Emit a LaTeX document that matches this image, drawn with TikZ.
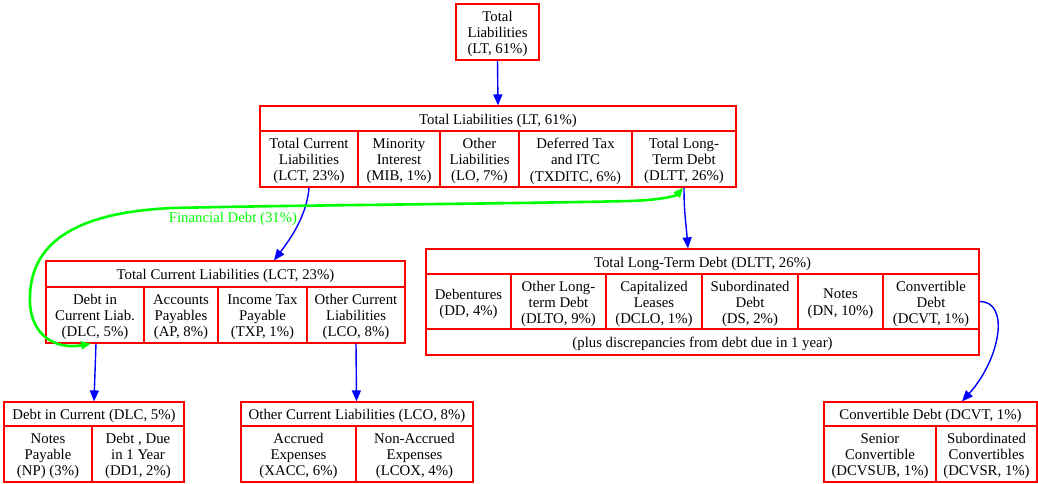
\documentclass[tikz,border=0pt]{standalone}
\usepackage{fontspec}
\setmainfont{Liberation Serif}
\usetikzlibrary{arrows.meta}
\definecolor{gvred}{rgb}{1,0,0}
\definecolor{gvblue}{rgb}{0,0,1}
\definecolor{gvgreen}{rgb}{0,1,0}
\newcommand\cellbox[6]{%
  \node[cellsty, minimum width={(#4-#2)*1pt}, minimum height={(#5-#3)*1pt}] (#1) at ({(#2+#4)/2},{(#3+#5)/2}) {};
  \node[celltext] (#1-t) at ([yshift=-2.2pt]#1.center) {#6};}
\begin{document}
\begin{tikzpicture}[x=1pt,y=-1pt,
  cellsty/.style={draw=gvred, line width=1.2pt, inner sep=0pt, rectangle},
  celltext/.style={inner sep=0pt, align=center, font=\fontsize{14.8}{16.2}\selectfont},
  bluearrow/.style={draw=gvblue, line width=1.4pt, -{Triangle[length=11pt,width=9pt]}},
  greenarrow/.style={draw=gvgreen, line width=2.6pt, {Triangle[length=10pt,width=8pt]}-{Triangle[length=10pt,width=8pt]}},
  greenlabel/.style={text=gvgreen, font=\fontsize{14.8}{16.2}\selectfont, inner sep=0pt}]
\useasboundingbox (0,0) rectangle (1038,484);
% top node
\cellbox{T}{456}{4}{539}{60}{Total\\Liabilities\\(LT, 61\%)}
% LT record
\cellbox{lth}{260}{106}{736}{131}{Total Liabilities (LT, 61\%)}
\cellbox{lt1}{260}{131}{358}{187}{Total Current\\Liabilities\\(LCT, 23\%)}
\cellbox{lt2}{358}{131}{440}{187}{Minority\\Interest\\(MIB, 1\%)}
\cellbox{lt3}{440}{131}{519}{187}{Other\\Liabilities\\(LO, 7\%)}
\cellbox{lt4}{519}{131}{632}{187}{Deferred Tax\\and ITC\\(TXDITC, 6\%)}
\cellbox{lt5}{632}{131}{736}{187}{Total Long-\\Term Debt\\(DLTT, 26\%)}
% LCT record
\cellbox{lcth}{46}{261}{405}{287}{Total Current Liabilities (LCT, 23\%)}
\cellbox{lc1}{46}{287}{144}{343}{Debt in\\Current Liab.\\(DLC, 5\%)}
\cellbox{lc2}{144}{287}{218}{343}{Accounts\\Payables\\(AP, 8\%)}
\cellbox{lc3}{218}{287}{307}{343}{Income Tax\\Payable\\(TXP, 1\%)}
\cellbox{lc4}{307}{287}{405}{343}{Other Current\\Liabilities\\(LCO, 8\%)}
% DLTT record
\cellbox{dlh}{426}{249}{979}{274}{Total Long-Term Debt (DLTT, 26\%)}
\cellbox{dl1}{426}{274}{511}{329}{Debentures\\(DD, 4\%)}
\cellbox{dl2}{511}{274}{606}{329}{Other Long-\\term Debt\\(DLTO, 9\%)}
\cellbox{dl3}{606}{274}{702}{329}{Capitalized\\Leases\\(DCLO, 1\%)}
\cellbox{dl4}{702}{274}{798}{329}{Subordinated\\Debt\\(DS, 2\%)}
\cellbox{dl5}{798}{274}{883}{329}{Notes\\(DN, 10\%)}
\cellbox{dl6}{883}{274}{979}{329}{Convertible\\Debt\\(DCVT, 1\%)}
\cellbox{dlf}{426}{329}{979}{355}{(plus discrepancies from debt due in 1 year)}
% DLC record
\cellbox{dch}{4}{402}{184}{426}{Debt in Current (DLC, 5\%)}
\cellbox{dc1}{4}{426}{92}{482}{Notes\\Payable\\(NP) (3\%)}
\cellbox{dc2}{92}{426}{184}{482}{Debt , Due\\in 1 Year\\(DD1, 2\%)}
% LCO record
\cellbox{lch}{241}{402}{473}{426}{Other Current Liabilities (LCO, 8\%)}
\cellbox{lo1}{241}{426}{356}{482}{Accrued\\Expenses\\(XACC, 6\%)}
\cellbox{lo2}{356}{426}{473}{482}{Non-Accrued\\Expenses\\(LCOX, 4\%)}
% DCVT record
\cellbox{cvh}{824}{402}{1037}{426}{Convertible Debt (DCVT, 1\%)}
\cellbox{cv1}{824}{426}{936}{482}{Senior\\Convertible\\(DCVSUB, 1\%)}
\cellbox{cv2}{936}{426}{1037}{482}{Subordinated\\Convertibles\\(DCVSR, 1\%)}
% blue edges
\draw[bluearrow] (T.south) -- (lth.north);
\draw[bluearrow] (lt1.south) .. controls +(-2,28) and +(16,-21) .. ([xshift=48.5pt]lcth.north);
\draw[bluearrow] (lt5.south) .. controls +(0,25) and +(-2,-25) .. ([xshift=-14.5pt]dlh.north);
\draw[bluearrow] ([xshift=1pt]lc1.south) -- (dch.north);
\draw[bluearrow] (lc4.south) -- ([xshift=-0.5pt]lch.north);
\draw[bluearrow] (dl6.east) .. controls +(31,0) and +(38,-42) .. ([xshift=31.5pt]cvh.north);
% green edge
\draw[greenarrow] ([xshift=-4pt]lc1.south) .. controls (55,350) and (28,335) .. (30,295)
  .. controls (32,240) and (80,212) .. (173,208)
  .. controls (300,205) and (500,204) .. (630,201)
  .. controls (660,200) and (676,196) .. ([xshift=-1pt]lt5.south);
\node[greenlabel] (fd) at (233,219) {Financial Debt (31\%)};
\end{tikzpicture}
\end{document}
